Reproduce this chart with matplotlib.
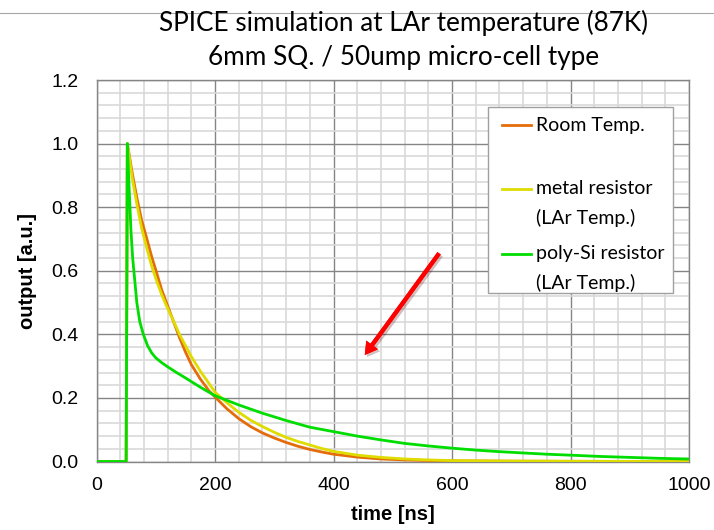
import numpy as np
import matplotlib
matplotlib.use("Agg")
import matplotlib.pyplot as plt
from matplotlib.legend_handler import HandlerLine2D
from matplotlib.patches import Rectangle
from matplotlib.ticker import MultipleLocator
import matplotlib.patheffects as pe

# values (time in ns, output in a.u.)
time_room = [0, 50, 52, 60, 68, 76, 85, 93, 102, 110, 118, 128, 140, 150, 160, 175, 190,
             200, 220, 240, 260, 280, 300, 320, 340, 360, 380, 400, 440, 480, 520, 560,
             600, 700, 800, 1000]
out_room = [0, 0, 1.0, 0.91, 0.83, 0.76, 0.70, 0.645, 0.59, 0.54, 0.50, 0.45, 0.39, 0.345,
            0.305, 0.26, 0.222, 0.203, 0.166, 0.135, 0.11, 0.09, 0.074, 0.06, 0.048, 0.038,
            0.03, 0.023, 0.014, 0.008, 0.005, 0.003, 0.002, 0.001, 0.0005, 0.0]

time_metal = [0, 50, 52, 60, 68, 76, 85, 93, 102, 110, 118, 128, 140, 150, 160, 175, 190,
              200, 220, 240, 260, 280, 300, 320, 340, 360, 380, 400, 440, 480, 520, 560,
              600, 700, 800, 1000]
out_metal = [0, 0, 1.0, 0.895, 0.81, 0.735, 0.67, 0.615, 0.565, 0.525, 0.49, 0.45, 0.40,
             0.365, 0.33, 0.285, 0.245, 0.218, 0.185, 0.155, 0.13, 0.11, 0.092, 0.076,
             0.063, 0.052, 0.041, 0.032, 0.02, 0.013, 0.008, 0.005, 0.003, 0.0015, 0.001, 0.0]

time_poly = [0, 50, 52, 55, 58, 61, 64, 68, 73, 79, 86, 93, 100, 110, 120, 135, 150, 175,
             200, 240, 280, 320, 360, 400, 440, 480, 520, 560, 600, 640, 680, 720, 760,
             800, 850, 900, 950, 1000]
out_poly = [0, 0, 1.0, 0.86, 0.73, 0.64, 0.58, 0.50, 0.44, 0.40, 0.365, 0.342, 0.326, 0.311,
            0.298, 0.28, 0.263, 0.234, 0.207, 0.178, 0.152, 0.129, 0.108, 0.094, 0.08, 0.068,
            0.057, 0.049, 0.042, 0.036, 0.031, 0.027, 0.023, 0.02, 0.016, 0.013, 0.01, 0.008]

labels = ["Room Temp.", "metal resistor\n(LAr Temp.)", "poly-Si resistor\n(LAr Temp.)"]
colors = ["#E46C0A", "#DEDC00", "#00DD00"]

x_ticks = [0, 200, 400, 600, 800, 1000]
y_ticks = [0.0, 0.2, 0.4, 0.6, 0.8, 1.0, 1.2]

title_1 = "SPICE simulation at LAr temperature (87K)"
title_2 = "6mm SQ. / 50ump micro-cell type"

# red arrow in the plot (tail -> head), data units
arrow_tail = (581, 0.662)
arrow_head = (450, 0.328)


class TopLine(HandlerLine2D):
    # excel puts the legend key next to the first line of the label
    def __init__(self, shift=0, **kw):
        super().__init__(**kw)
        self.shift = shift

    def create_artists(self, legend, orig_handle, xdescent, ydescent, width, height,
                       fontsize, trans):
        arts = super().create_artists(legend, orig_handle, xdescent, ydescent, width,
                                      height, fontsize, trans)
        for a in arts:
            a.set_ydata(np.asarray(a.get_ydata()) + self.shift)
        return arts


plt.rcParams['font.family'] = ['Liberation Sans', 'DejaVu Sans']

fig = plt.figure(figsize=(7.14, 5.30), dpi=100)
ax = fig.add_axes([0.1352, 0.1292, 0.8298, 0.7198])

lines = []
for t, v, c in zip([time_room, time_metal, time_poly], [out_room, out_metal, out_poly], colors):
    ln, = ax.plot(t, v, color=c, lw=2.0, solid_joinstyle='round', zorder=3)
    lines.append(ln)

ax.set_xlim(0, 1000)
ax.set_ylim(0, 1.2)
ax.set_xticks(x_ticks)
ax.set_yticks(y_ticks)
ax.set_yticklabels([f"{v:.1f}" for v in y_ticks])
ax.xaxis.set_minor_locator(MultipleLocator(40))
ax.yaxis.set_minor_locator(MultipleLocator(0.04))
ax.grid(which='minor', color='#D9D9D9', lw=1.2, zorder=0)
ax.grid(which='major', color='#858585', lw=1.0, zorder=1)
ax.set_axisbelow(True)
ax.tick_params(which='both', length=0)
ax.tick_params(axis='x', pad=11, labelsize=14)
ax.tick_params(axis='y', pad=13, labelsize=14)
for s in ax.spines.values():
    s.set_color('#858585')
    s.set_linewidth(1.0)

ax.set_xlabel("time [ns]", fontsize=14.5, fontweight='bold', labelpad=8)
ax.set_ylabel("output [a.u.]", fontsize=14.5, fontweight='bold', labelpad=10)

# legend box drawn separately so the padding matches the excel one
box = Rectangle((0.6608, 0.4417), 0.3122, 0.4875, transform=ax.transAxes,
                facecolor='white', edgecolor='#A0A0A0', lw=1.0, zorder=4.5)
ax.add_patch(box)

lab_font = {'family': ['Lato', 'DejaVu Sans'], 'size': 14}
leg_labels = ["Room Temp.\n", labels[1], labels[2]]
leg = ax.legend(lines, leg_labels, loc='upper left', bbox_to_anchor=(0.6844, 0.903),
                prop=lab_font, frameon=False, handlelength=1.5, handletextpad=0.25,
                borderpad=0, borderaxespad=0, labelspacing=0.96,
                handler_map={l: TopLine(shift=10.5) for l in lines})
leg.set_zorder(5)
for txt in leg.get_texts():
    txt.set_linespacing(1.75)

ax.annotate("", xy=arrow_head, xytext=arrow_tail,
            arrowprops=dict(arrowstyle='simple,head_length=0.9,head_width=1.05,tail_width=0.3',
                            color='#FF0000', lw=0,
                            path_effects=[pe.withSimplePatchShadow(offset=(1.5, -1.5),
                                                                   alpha=0.25), pe.Normal()]),
            zorder=4)

tfont = {'family': ['Lato', 'DejaVu Sans'], 'size': 18.8}
fig.text(0.565, 0.957, title_1, ha='center', va='center', fontdict=tfont)
fig.text(0.565, 0.892, title_2, ha='center', va='center', fontdict=tfont)

# thin slide border line above the title
fig.add_artist(plt.Line2D([0, 1], [0.975, 0.975], transform=fig.transFigure,
                          color='#A6A6A6', lw=0.8))

fig.savefig("out.png", dpi=100)
